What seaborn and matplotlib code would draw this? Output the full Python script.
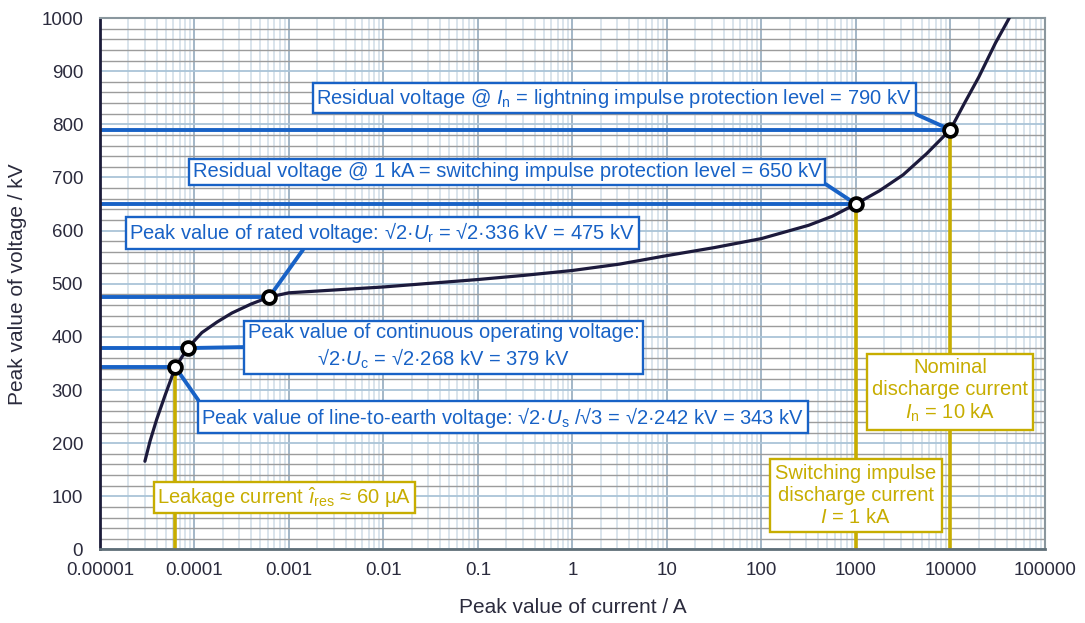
import numpy as np
import matplotlib
matplotlib.use("Agg")
import matplotlib.pyplot as plt
from matplotlib.ticker import LogLocator, MultipleLocator, NullFormatter
import seaborn as sns

# arrester U-I characteristic
current_a = [3.0e-5, 3.4e-5, 4.0e-5, 4.9e-5, 6.3e-5, 8.5e-5, 1.2e-4, 1.74e-4,
             2.5e-4, 4.0e-4, 6.2e-4, 1.0e-3, 1.0e-2, 1.0e-1, 0.316, 1.0, 3.16,
             10.0, 31.6, 100.0, 316.0, 562.0, 1000.0, 1778.0, 3162.0, 5623.0,
             10000.0, 14125.0, 20000.0, 30000.0, 42000.0]
voltage_kv = [166, 204, 245, 290, 343, 379, 408, 428,
              445, 462, 475, 483, 494, 508, 516, 525, 537,
              553, 568, 585, 610, 627, 650, 675, 705, 745,
              790, 840, 889, 953, 1000]

# marked operating points
point_current = [6.3e-5, 8.5e-5, 6.2e-4, 1000.0, 10000.0]
point_voltage = [343, 379, 475, 650, 790]

# vertical (gold) current markers
vline_current = [6.3e-5, 1000.0, 10000.0]
vline_voltage = [343, 650, 790]

x_ticks = [1e-5, 1e-4, 1e-3, 1e-2, 1e-1, 1, 10, 100, 1000, 10000, 100000]
x_tick_labels = ["0.00001", "0.0001", "0.001", "0.01", "0.1", "1", "10",
                 "100", "1000", "10000", "100000"]

BLUE = "#1862c6"
GOLD = "#c7ad00"
CURVE = "#1c1a3c"
TXT = "#2b2b3d"

sns.set_theme(style="white")
plt.rcParams["font.family"] = ["Liberation Sans", "DejaVu Sans"]
plt.rcParams["mathtext.fontset"] = "custom"
plt.rcParams["mathtext.rm"] = "Liberation Sans"
plt.rcParams["mathtext.it"] = "Liberation Sans:italic"
plt.rcParams["mathtext.bf"] = "Liberation Sans:bold"

fig, ax = plt.subplots(figsize=(10.85, 6.23), dpi=100)
fig.subplots_adjust(left=0.092, right=0.963, bottom=0.118, top=0.971)

ax.set_xscale("log")
ax.set_xlim(1e-5, 1e5)
ax.set_ylim(0, 1000)

# grid
ax.xaxis.set_minor_locator(LogLocator(base=10, subs=np.arange(2, 10), numticks=200))
ax.xaxis.set_minor_formatter(NullFormatter())
ax.yaxis.set_major_locator(MultipleLocator(100))
ax.yaxis.set_minor_locator(MultipleLocator(20))
ax.grid(which="minor", axis="x", color="#cfdce7", lw=1.1, zorder=0)
ax.grid(which="major", axis="x", color="#a3b7c7", lw=1.4, zorder=0)
ax.grid(which="minor", axis="y", color="#9c9c9c", lw=1.0, zorder=0)
ax.grid(which="major", axis="y", color="#aac4d8", lw=1.3, zorder=0)
ax.set_axisbelow(True)

ax.set_xticks(x_ticks)
ax.set_xticklabels(x_tick_labels)
ax.tick_params(which="both", length=0)
ax.tick_params(axis="x", labelsize=13.5, labelcolor=TXT, pad=9)
ax.tick_params(axis="y", labelsize=13.5, labelcolor=TXT, pad=12)

for side in ["top", "right"]:
    ax.spines[side].set_color("#8a979e")
    ax.spines[side].set_linewidth(1.5)
ax.spines["left"].set_color("#1c1c3a")
ax.spines["left"].set_linewidth(2)
ax.spines["bottom"].set_color("#5f6f78")
ax.spines["bottom"].set_linewidth(2)

# guide lines
ax.vlines(vline_current, 0, vline_voltage, color=GOLD, lw=2.6, zorder=2)
ax.hlines(point_voltage, 1e-5, point_current, color=BLUE, lw=2.8, zorder=2)

# characteristic
sns.lineplot(x=current_a, y=voltage_kv, ax=ax, color=CURVE, lw=2.3,
             sort=False, estimator=None, zorder=3)

# labels with connectors
def label(text, xy, xytext, color, relpos=None, pad=0.18, **kw):
    arrow = None
    if relpos is not None:
        arrow = dict(arrowstyle="-", color=color, lw=2.8, relpos=relpos,
                     shrinkA=0, shrinkB=0)
    ax.annotate(text, xy=xy, xytext=xytext, textcoords="data",
                ha="center", va="center", fontsize=14.5, color=color,
                bbox=dict(boxstyle=f"square,pad={pad}", fc="white", ec=color, lw=1.7),
                arrowprops=arrow, zorder=5, **kw)

label(r"Residual voltage @ $I_\mathrm{n}$ = lightning impulse protection level = 790 kV",
      (10000, 790), (2.78, 849), BLUE, relpos=(0.99, 0.0))
label("Residual voltage @ 1 kA = switching impulse protection level = 650 kV",
      (1000, 650), (0.203, 711), BLUE, relpos=(1.0, 0.0))
label(r"Peak value of rated voltage: √2·$U_\mathrm{r}$ = √2·336 kV = 475 kV",
      (6.2e-4, 475), (0.0097, 596), BLUE, relpos=(0.35, 0.0))
label("Peak value of continuous operating voltage:\n"
      r"√2·$U_\mathrm{c}$ = √2·268 kV = 379 kV",
      (8.5e-5, 379), (0.0433, 381), BLUE, relpos=(0.0, 0.5),
      linespacing=1.2, multialignment="center")
label(r"Peak value of line-to-earth voltage: √2·$U_\mathrm{s}$ /√3 = √2·242 kV = 343 kV",
      (6.3e-5, 343), (0.1845, 249), BLUE, relpos=(0.0, 1.0))
label(r"Leakage current $\hat{\imath}_\mathrm{res}$ ≈ 60 µA",
      (6.3e-5, 98), (9.0e-4, 98), GOLD)
label("Switching impulse\ndischarge current\n" r"$I$ = 1 kA",
      (1000, 102), (1000, 102), GOLD, pad=0.25, linespacing=1.2)
label("Nominal\ndischarge current\n" r"$I_\mathrm{n}$ = 10 kA",
      (10000, 298), (10000, 298), GOLD, pad=0.25, linespacing=1.2)

# operating points
sns.scatterplot(x=point_current, y=point_voltage, ax=ax, s=85, color="white",
                edgecolor="black", linewidth=2.7, zorder=6)

ax.set_xlabel("Peak value of current / A", fontsize=15, color=TXT, labelpad=14)
ax.set_ylabel("Peak value of voltage / kV", fontsize=15, color=TXT, labelpad=10)

fig.savefig("out.png", dpi=100)
